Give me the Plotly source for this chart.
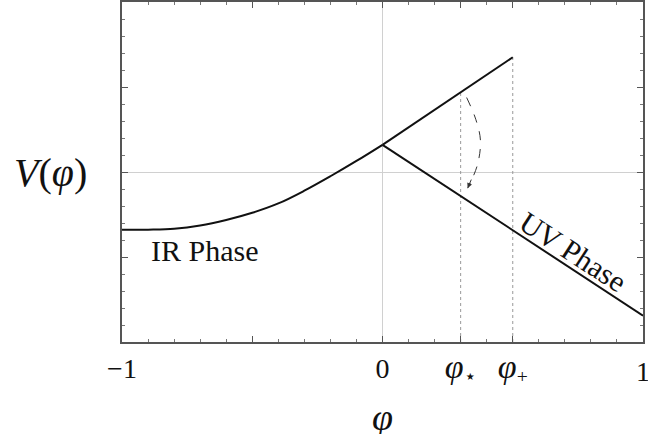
import plotly.graph_objects as go

# IR branch
ir_x = [-1.0, -0.9, -0.8, -0.7, -0.6, -0.5, -0.4, -0.3, -0.2, -0.1, 0.0]
ir_y = [-0.68, -0.678, -0.668, -0.63, -0.565, -0.48, -0.37, -0.22, -0.05, 0.13, 0.32]

# UV branches (straight lines out of the kink)
up_x = [0.0, 0.5]
up_y = [0.32, 1.35]
down_x = [0.0, 1.0]
down_y = [0.32, -1.69]

phi_star = 0.3
phi_plus = 0.5
star_top = 0.94

# dashed arrow from the upper branch to the lower one
arrow_x = [0.323, 0.358, 0.376, 0.364, 0.327]
arrow_y = [0.876, 0.62, 0.37, 0.08, -0.19]

PHI = '<span style="font-size:34px"><i>\u03c6</i></span>'
tick_vals = [-1, -0.5, 0, phi_star, phi_plus, 1]
tick_text = ["\u22121", "", "0", PHI + "<sub>\u22c6</sub>", PHI + "<sub>+</sub>", "1"]

FONT = "Liberation Serif"
LINE = "#111111"

fig = go.Figure()

fig.add_trace(go.Scatter(x=[phi_star, phi_star], y=[-2, star_top], mode="lines",
                         line=dict(color="#999999", width=1, dash="dot"), hoverinfo="skip"))
fig.add_trace(go.Scatter(x=[phi_plus, phi_plus], y=[-2, up_y[1]], mode="lines",
                         line=dict(color="#999999", width=1, dash="dot"), hoverinfo="skip"))

fig.add_trace(go.Scatter(x=ir_x, y=ir_y, mode="lines", line=dict(color=LINE, width=2, shape="spline")))
fig.add_trace(go.Scatter(x=up_x, y=up_y, mode="lines", line=dict(color=LINE, width=2)))
fig.add_trace(go.Scatter(x=down_x, y=down_y, mode="lines", line=dict(color=LINE, width=2)))

fig.add_trace(go.Scatter(x=arrow_x, y=arrow_y, mode="lines",
                         line=dict(color="#333333", width=1, dash="dash", shape="spline")))
fig.add_annotation(x=arrow_x[-1], y=arrow_y[-1], ax=arrow_x[-2], ay=arrow_y[-2],
                   xref="x", yref="y", axref="x", ayref="y", text="",
                   showarrow=True, arrowhead=2, arrowsize=1, arrowwidth=1, arrowcolor="#333333",
                   standoff=0, startstandoff=14)

fig.add_annotation(x=-0.683, y=-0.92, text="IR Phase", showarrow=False,
                   font=dict(family=FONT, size=30, color="#111"))
fig.add_annotation(x=0.731, y=-0.935, text="UV Phase", showarrow=False, textangle=33,
                   font=dict(family=FONT, size=30, color="#111"))

# the "1" at the right end runs off the page, plotly drops it as a tick label
fig.add_annotation(x=tick_vals[-1], y=-0.035, xref="x", yref="paper", xanchor="center", yanchor="top",
                   text=tick_text[-1], showarrow=False, font=dict(family=FONT, size=28, color="#111"))

fig.add_annotation(x=-0.138, y=0.5, xref="paper", yref="paper", xanchor="center", yanchor="middle",
                   text="<i>V</i>(<i>\u03c6</i>)",
                   showarrow=False, font=dict(family=FONT, size=40, color="#111"))
fig.add_annotation(x=0, y=-0.22, xref="x", yref="paper", xanchor="center", yanchor="middle",
                   text="<i>\u03c6</i>",
                   showarrow=False, font=dict(family=FONT, size=38, color="#111"))

fig.update_layout(
    width=648, height=434,
    margin=dict(l=122, r=5, t=2, b=92),
    paper_bgcolor="white", plot_bgcolor="white",
    showlegend=False,
    font=dict(family=FONT, size=28, color="#111"),
    xaxis=dict(range=[-1, 1], tickmode="array", tickvals=tick_vals, ticktext=tick_text,
               automargin=False,
               ticks="inside", ticklen=6, tickcolor="#555", showgrid=False,
               zeroline=True, zerolinecolor="#d0d0d0", zerolinewidth=1,
               showline=True, linecolor="#555", linewidth=2, mirror="allticks",
               minor=dict(dtick=0.1, tick0=0, ticks="inside", ticklen=3, tickcolor="#777", showgrid=False)),
    yaxis=dict(range=[-2, 2], dtick=1, ticks="inside", ticklen=6, tickcolor="#555",
               automargin=False,
               showticklabels=False, showgrid=False,
               zeroline=True, zerolinecolor="#d0d0d0", zerolinewidth=1,
               showline=True, linecolor="#555", linewidth=2, mirror="allticks",
               minor=dict(dtick=0.2, tick0=0, ticks="inside", ticklen=3, tickcolor="#777", showgrid=False)),
)

# page body has an 8px default margin; drop it so the figure sits at the window corner
fig.write_html("out.html", config={"displayModeBar": False},
               post_script="document.body.style.margin='0';")
